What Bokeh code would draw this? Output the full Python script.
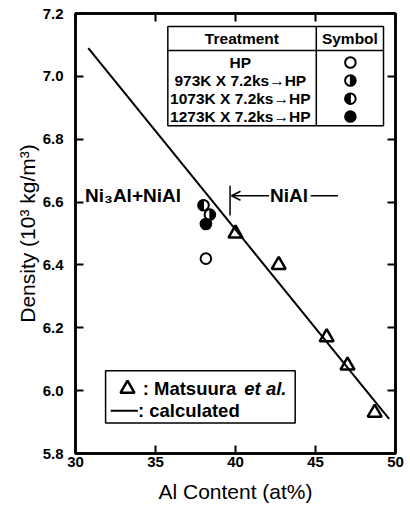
import math
from bokeh.plotting import figure
from bokeh.models import Range1d, LinearAxis, FixedTicker, NumeralTickFormatter, Arrow, OpenHead
from bokeh.core.properties import value
from bokeh.embed import file_html
from bokeh.resources import INLINE

# ---- data ----
al_matsuura = [40.0, 42.7, 45.7, 47.0, 48.7]
den_matsuura = [6.50, 6.40, 6.17, 6.08, 5.93]

calc_al = [30.8, 49.6]
calc_den = [7.09, 5.91]

hp_al, hp_den = [38.15], [6.42]
k973_al, k973_den = [38.4], [6.56]
k1073_al, k1073_den = [38.0], [6.59]
k1273_al, k1273_den = [38.15], [6.53]

treatments = ["HP", "973K X 7.2ks\u2192HP", "1073K X 7.2ks\u2192HP", "1273K X 7.2ks\u2192HP"]
x_ticks = [30, 35, 40, 45, 50]
y_ticks = [5.8, 6.0, 6.2, 6.4, 6.6, 6.8, 7.0, 7.2]

FONT = value("Liberation Sans")

p = figure(width=408, height=510, output_backend="svg", toolbar_location=None,
           x_range=Range1d(30, 50), y_range=Range1d(5.8, 7.2),
           min_border_left=75, min_border_right=13, min_border_top=13, min_border_bottom=57)
p.grid.visible = False
p.outline_line_color = "black"
p.outline_line_width = 2.5

for ax in (p.xaxis[0], p.yaxis[0]):
    ax.axis_line_width = 2.5
    ax.axis_line_color = "black"
    ax.major_tick_in = 8
    ax.major_tick_out = 0
    ax.major_tick_line_width = 2
    ax.minor_tick_line_color = None
    ax.major_label_text_font = "Liberation Sans"
    ax.major_label_text_font_style = "bold"
    ax.major_label_text_font_size = "15px"
    ax.major_label_text_color = "black"
    ax.axis_label_text_font = "Liberation Sans"
    ax.axis_label_text_font_style = "normal"
    ax.axis_label_text_font_size = "21px"
    ax.axis_label_text_color = "black"

p.xaxis[0].ticker = FixedTicker(ticks=x_ticks)
p.yaxis[0].ticker = FixedTicker(ticks=y_ticks)
p.yaxis[0].formatter = NumeralTickFormatter(format="0.0")
p.xaxis[0].axis_label = "Al Content (at%)"
p.yaxis[0].axis_label = "Density (10\u00b3 kg/m\u00b3)"
p.xaxis[0].major_label_standoff = 3
p.yaxis[0].major_label_standoff = 12
p.xaxis[0].axis_label_standoff = 10
p.yaxis[0].axis_label_standoff = 1

top = LinearAxis(ticker=FixedTicker(ticks=x_ticks))
right = LinearAxis(ticker=FixedTicker(ticks=y_ticks))
for ax in (top, right):
    ax.major_tick_in = 8
    ax.major_tick_out = 0
    ax.major_tick_line_width = 2
    ax.minor_tick_line_color = None
    ax.major_label_text_font_size = "0px"
    ax.major_label_standoff = 0
    ax.axis_line_width = 2.5
p.add_layout(top, "above")
p.add_layout(right, "right")

# calculated line
p.line(calc_al, calc_den, line_color="black", line_width=2)

# Matsuura triangles
p.scatter(al_matsuura, den_matsuura, marker="triangle", size=14, fill_color=None,
          line_color="black", line_width=2.5)

R = 5.3

def half_circle(xs, ys, side):
    p.scatter(xs, ys, marker="circle", size=2 * R, fill_color="white", line_color=None)
    if side == "right":
        p.wedge(xs, ys, radius=R, radius_units="screen", start_angle=-math.pi / 2,
                end_angle=math.pi / 2, color="black")
    elif side == "left":
        p.wedge(xs, ys, radius=R, radius_units="screen", start_angle=math.pi / 2,
                end_angle=3 * math.pi / 2, color="black")
    elif side == "full":
        p.scatter(xs, ys, marker="circle", size=2 * R, fill_color="black", line_color=None)
    p.scatter(xs, ys, marker="circle", size=2 * R, fill_color=None, line_color="black", line_width=2)

# sample points
half_circle(hp_al, hp_den, "none")
half_circle(k973_al, k973_den, "right")
half_circle(k1273_al, k1273_den, "full")
half_circle(k1073_al, k1073_den, "left")

# phase boundary annotation
p.segment(x0=[39.66], y0=[6.652], x1=[39.66], y1=[6.557], line_color="black", line_width=1.5)
p.add_layout(Arrow(end=OpenHead(size=9, line_width=1.5, line_color="black"),
                   x_start=42.1, y_start=6.62, x_end=39.75, y_end=6.62,
                   line_width=1.5, line_color="black"))
p.segment(x0=[44.7], y0=[6.62], x1=[46.4], y1=[6.62], line_color="black", line_width=1.5)
p.text(x=[43.35], y=[6.62], text=["NiAl"], text_font=FONT, text_font_style="bold",
       text_font_size="19px", text_align="center", text_baseline="middle")
p.text(x=[30.6], y=[6.62], text=["Ni\u2083Al+NiAl"], text_font=FONT, text_font_style="bold",
       text_font_size="19px", text_align="left", text_baseline="middle")

# treatment table
tx0, tx1, txd = 35.77, 49.25, 45.05
ty0, ty1, tyh = 6.843, 7.159, 7.082
row_y = [7.044, 6.987, 6.929, 6.872]
p.quad(left=[tx0], right=[tx1], bottom=[ty0], top=[ty1], fill_color="white",
       line_color="black", line_width=1.5)
p.segment(x0=[tx0, txd], y0=[tyh, ty0], x1=[tx1, txd], y1=[tyh, ty1],
          line_color="black", line_width=1.5)
p.text(x=[40.4, 47.15], y=[7.121, 7.121], text=["Treatment", "Symbol"], text_font=FONT,
       text_font_style="bold", text_font_size="15.5px", text_align="center", text_baseline="middle")
p.text(x=[40.3] * 4, y=row_y, text=treatments, text_font=FONT, text_font_style="bold",
       text_font_size="15.5px", text_align="center", text_baseline="middle")
sx = 47.18
half_circle([sx], [row_y[0]], "none")
half_circle([sx], [row_y[1]], "right")
half_circle([sx], [row_y[2]], "left")
half_circle([sx], [row_y[3]], "full")

# legend box
p.quad(left=[31.88], right=[43.73], bottom=[5.897], top=[6.063], fill_color="white",
       line_color="black", line_width=1.5)
p.scatter([33.25], [6.006], marker="triangle", size=14, fill_color=None,
          line_color="black", line_width=2.5)
p.text(x=[34.2], y=[6.006], text=[": Matsuura"], text_font=FONT, text_font_style="bold",
       text_font_size="18.5px", text_align="left", text_baseline="middle")
p.text(x=[40.55], y=[6.006], text=["et al."], text_font=FONT, text_font_style="bold italic",
       text_font_size="18.5px", text_align="left", text_baseline="middle")
p.segment(x0=[32.2], y0=[5.936], x1=[33.9], y1=[5.936], line_color="black", line_width=2)
p.text(x=[33.9], y=[5.936], text=[": calculated"], text_font=FONT, text_font_style="bold",
       text_font_size="18.5px", text_align="left", text_baseline="middle")

open("out.html", "w").write(file_html(p, INLINE))
